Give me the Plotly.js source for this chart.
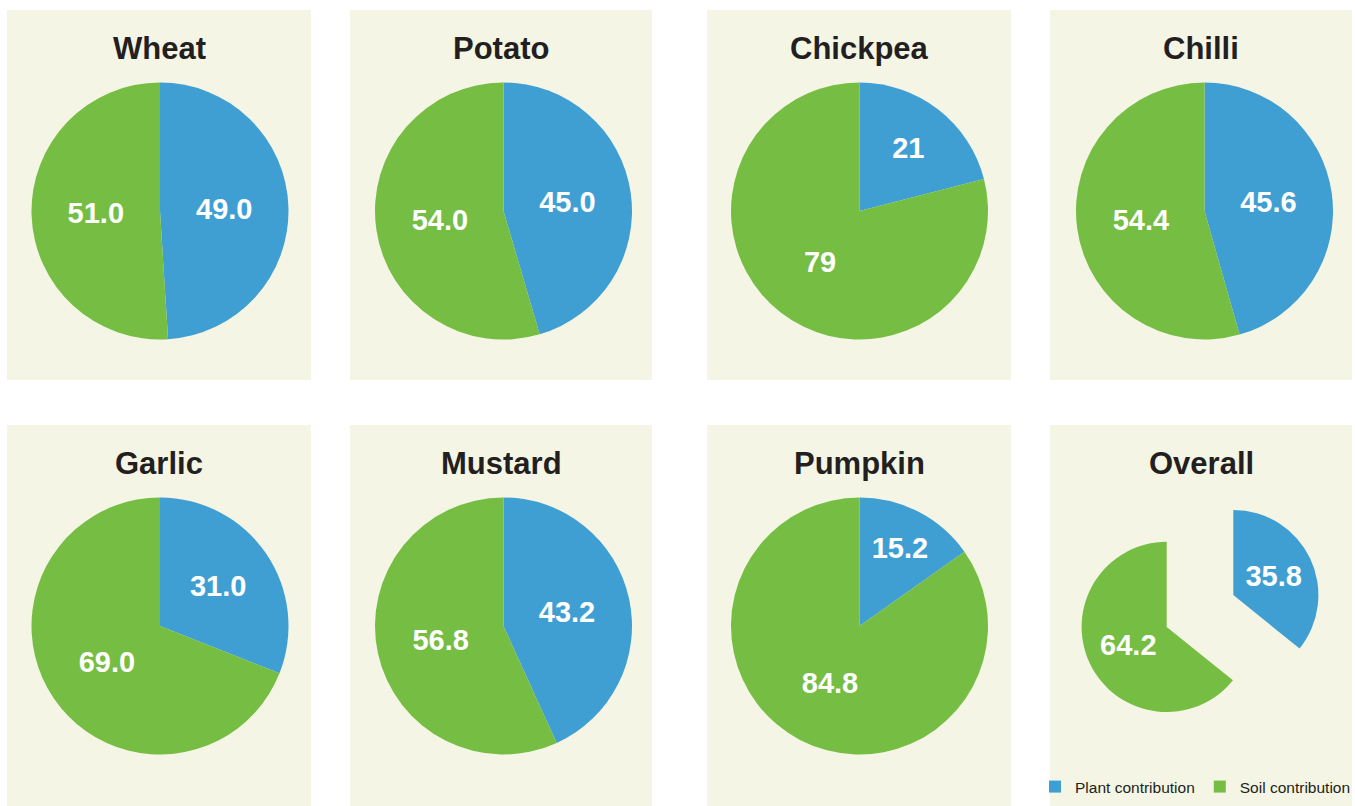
<!DOCTYPE html>
<html>
<head>
<meta charset="utf-8">
<script src="https://cdn.plot.ly/plotly-3.0.1.min.js"></script>
<style>
  html, body { margin: 0; padding: 0; background: #ffffff; overflow: hidden; }
  #chart { width: 1355px; height: 806px; }
</style>
</head>
<body>
<div id="chart"></div>
<script>
// ---- data ----
const crops = ['Wheat', 'Potato', 'Chickpea', 'Chilli', 'Garlic', 'Mustard', 'Pumpkin', 'Overall'];
const plantValues = [49.0, 45.0, 21, 45.6, 31.0, 43.2, 15.2, 35.8];
const soilValues = [51.0, 54.0, 79, 54.4, 69.0, 56.8, 84.8, 64.2];
const valueDecimals = [1, 1, 0, 1, 1, 1, 1, 1];
const sliceLabels = ['Plant contribution', 'Soil contribution'];

// ---- style / geometry ----
const W = 1355, H = 806;
const BLUE = '#3f9fd3', GREEN = '#76bd43', PANEL = '#f4f5e4', INK = '#231f20';
const panelCols = [[7, 311], [350, 652], [707, 1011], [1050, 1352]];
const panelRows = [[10, 380], [425, 806]];
const pieCx = [160, 503.5, 859.5, 1204.5];
const pieCy = [211, 626];
const titleY = [48, 463];

function px2x(v) { return v / W; }
function px2y(v) { return 1 - v / H; }

const traces = [];
const shapes = [];
const annotations = [];

crops.forEach(function (name, i) {
  const col = i % 4, row = Math.floor(i / 4);
  const isOverall = name === 'Overall';
  let cx = pieCx[col], cy = pieCy[row], half = 128.5;
  if (isOverall) { cx = 1200; cy = 611; half = 122; }
  traces.push({
    type: 'pie',
    name: name,
    labels: sliceLabels,
    values: [plantValues[i], soilValues[i]],
    sort: false,
    direction: 'clockwise',
    rotation: 0,
    pull: isOverall ? [0.434, 0.434] : 0,
    marker: { colors: [BLUE, GREEN], line: { width: 0 } },
    textposition: 'inside',
    insidetextorientation: 'horizontal',
    texttemplate: valueDecimals[i] ? '%{value:.1f}' : '%{value:.0f}',
    textfont: { family: 'Liberation Sans, Arial, sans-serif', size: 29, color: '#ffffff', weight: 700 },
    hoverinfo: 'skip',
    showlegend: i === 0,
    domain: {
      x: [px2x(cx - half), px2x(cx + half)],
      y: [px2y(cy + half), px2y(cy - half)]
    }
  });
  const pc = panelCols[col], pr = panelRows[row];
  shapes.push({
    type: 'rect', xref: 'paper', yref: 'paper', layer: 'below',
    x0: px2x(pc[0]), x1: px2x(pc[1]), y0: px2y(pr[1]), y1: px2y(pr[0]),
    fillcolor: PANEL, line: { width: 0 }
  });
  annotations.push({
    text: name, xref: 'paper', yref: 'paper', showarrow: false,
    x: px2x((pc[0] + pc[1]) / 2), y: px2y(titleY[row]),
    xanchor: 'center', yanchor: 'middle',
    font: { family: 'Liberation Sans, Arial, sans-serif', size: 31, color: INK, weight: 700 }
  });
});

const layout = {
  width: W, height: H,
  margin: { l: 0, r: 0, t: 0, b: 0, autoexpand: false },
  paper_bgcolor: '#ffffff',
  plot_bgcolor: '#ffffff',
  shapes: shapes,
  annotations: annotations,
  showlegend: true,
  legend: {
    orientation: 'h',
    x: px2x(1035), xanchor: 'left',
    y: px2y(787), yanchor: 'middle',
    bgcolor: 'rgba(0,0,0,0)',
    borderwidth: 0,
    font: { family: 'Liberation Sans, Arial, sans-serif', size: 15.5, color: INK },
    itemclick: false, itemdoubleclick: false
  }
};

Plotly.newPlot('chart', traces, layout, { displayModeBar: false, staticPlot: true });
</script>
</body>
</html>
